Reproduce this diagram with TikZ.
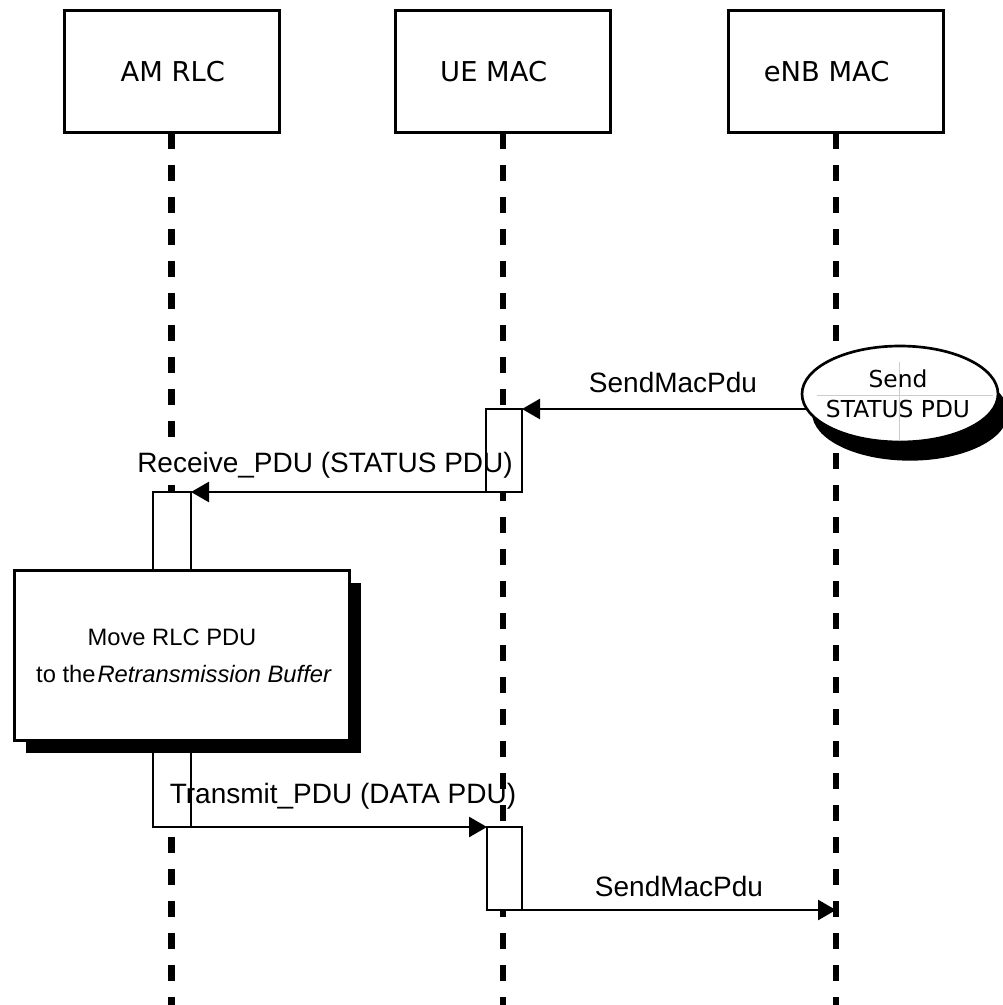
\documentclass[tikz,border=0pt]{standalone}
\usepackage{fontspec}
\setmainfont{Liberation Sans}
\newfontfamily\dejavu{DejaVu Sans}
\usetikzlibrary{arrows.meta,shadows,shapes.geometric}
\begin{document}
\begin{tikzpicture}[x=0.75pt,y=-0.75pt,
  hdr/.style={draw, line width=2.25pt, fill=white, minimum width=161.25pt, minimum height=91.5pt, inner sep=0pt, outer sep=0pt, font=\dejavu\fontsize{20.5}{24}\selectfont},
  life/.style={line width=5pt, dash pattern=on 12pt off 12pt},
  act/.style={draw, line width=2pt, fill=white, inner sep=0pt, outer sep=0pt},
  msg/.style={line width=2pt, -{Triangle[length=13.5pt,width=15pt]}},
  lbl/.style={font=\fontsize{21}{25}\selectfont, anchor=base, inner sep=0pt},
  mvtxt/.style={font=\fontsize{17.8}{21}\selectfont, anchor=base, inner sep=0pt},
]
\useasboundingbox (0,0) rectangle (1002,1005);
\coordinate (bot) at (0,1005);
% headers
\node[hdr] (amh) at (171.5,72) {\kern2pt AM RLC};
\node[hdr] (ueh) at (503,72) {UE MAC\kern14pt};
\node[hdr] (enb) at (836,72) {eNB MAC\kern14pt};
% lifelines
\draw[life] (amh.south) -- (amh.south |- bot);
\draw[life] (ueh.south) -- (ueh.south |- bot);
\draw[life] (enb.south) -- (enb.south |- bot);
% white backing behind the Receive label
\node[lbl, fill=white, text opacity=0, inner ysep=3pt] (l2bg) at (325,472) {Receive\_PDU (STATUS PDU)};
% activation boxes
\node[act, minimum width=27pt, minimum height=62.25pt] (u1) at (504,450.5) {};
\node[act, minimum width=28.5pt, minimum height=251.25pt] (am) at (172,659.5) {};
\node[act, minimum width=26.25pt, minimum height=62.25pt] (u2) at (504.5,868.5) {};
% move box
\node[act, line width=2.25pt, minimum width=251.25pt, minimum height=127.5pt,
      general shadow={fill=black, shadow xshift=9pt, shadow yshift=-9.75pt}] (mv) at (181.5,655) {};
\node[mvtxt] (mv1) at (172,645) {Move RLC PDU};
\node[mvtxt] (mv2) at (184,682) {to the\kern1.5pt\textit{Retransmission Buffer}};
% ellipse
\node[ellipse, draw, line width=2pt, fill=white, outer sep=0pt, minimum width=147pt, minimum height=72pt,
      general shadow={fill=black, shadow xshift=7.5pt, shadow yshift=-14pt}] (ell) at (900,394) {};
\draw[gray!40, line width=0.5pt] (817,395) -- (993,395);
\draw[gray!40, line width=0.5pt] (899,362) -- (899,441);
\node[font=\dejavu\fontsize{17.5}{22.5}\selectfont, align=center, inner sep=0pt, anchor=base] (ellt) at (898,417) {Send\\STATUS PDU};
% messages
\draw[msg] (u1.north east -| ell.189) -- (u1.north east);
\draw[msg] (u1.south west) -- (am.north east);
\draw[msg] (am.south east) -- (u2.north west);
\coordinate (e4) at (enb.south |- u2.south east);
\draw[msg] (u2.south east) -- (e4);
% labels
\node[lbl] (l1) at (673,392) {SendMacPdu};
\node[lbl] (l2) at (325,472) {Receive\_PDU (STATUS PDU)};
\node[lbl] (l3) at (343,803) {Transmit\_PDU (DATA PDU)};
\node[lbl] (l4) at (679,896) {SendMacPdu};
\end{tikzpicture}
\end{document}
